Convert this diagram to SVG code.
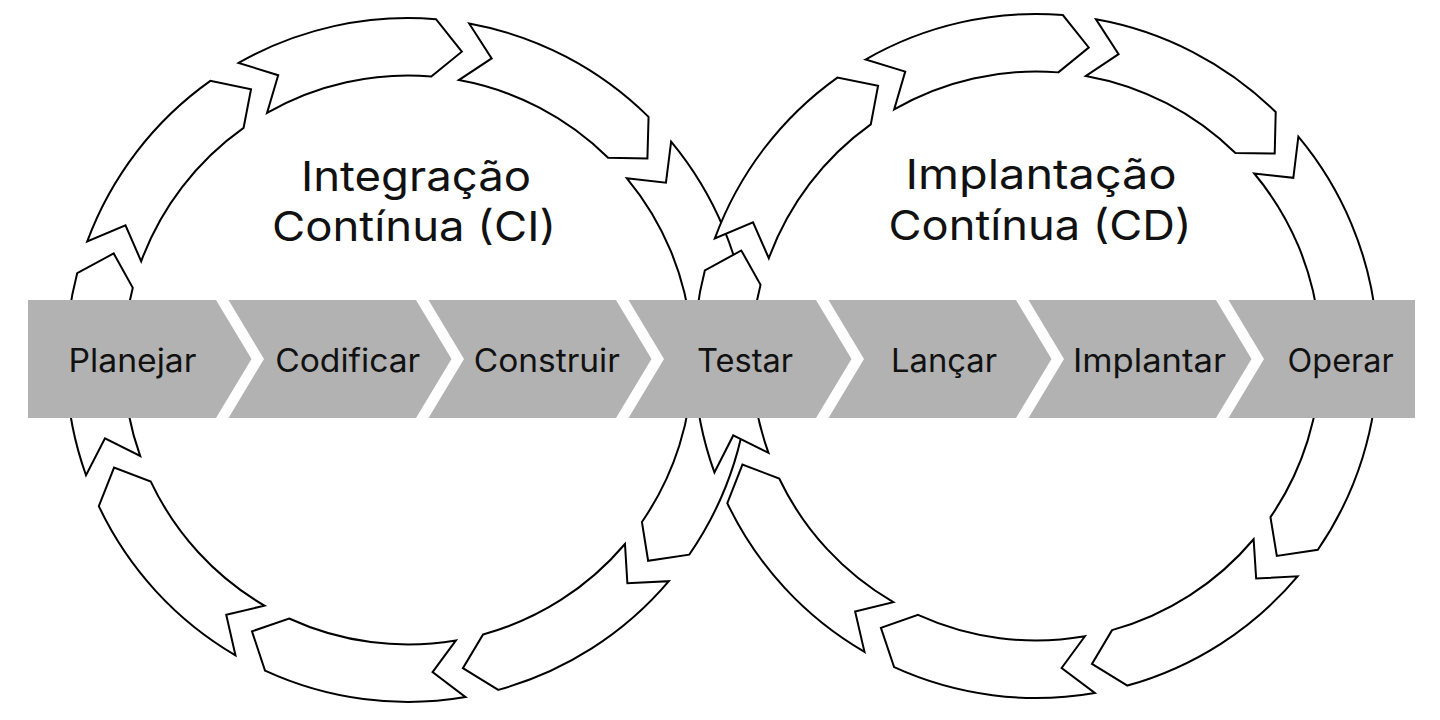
<svg xmlns="http://www.w3.org/2000/svg" xmlns:xlink="http://www.w3.org/1999/xlink" width="1440" height="720" viewBox="0 0 1440 720">
  <style>
    .seg { fill: #ffffff; stroke: #000000; stroke-width: 2; stroke-linejoin: miter; }
    .stage { fill: #b2b2b2; }
    .lbl { font-family: Inter, "Liberation Sans", sans-serif; font-size: 32px; fill: #111111; text-anchor: middle; }
    .title { font-family: Inter, "Liberation Sans", sans-serif; font-size: 41px; fill: #111111; text-anchor: middle; }
  </style>
  <defs>
    <path id="seg" class="seg" d="M342,0 A342,342 0 0 1 282.19,193.22 L241.17,199.51 L234.75,160.73 A284.5,284.5 0 0 0 284.5,0 L311.71,28.37 Z"/>
  </defs>
  <rect width="1440" height="720" fill="#ffffff"/>

  <g id="ring-ci" transform="translate(408,360)">
    <use xlink:href="#seg" href="#seg" transform="rotate(0.3)"/>
    <use xlink:href="#seg" href="#seg" transform="rotate(40.3)"/>
    <use xlink:href="#seg" href="#seg" transform="rotate(80.3)"/>
    <use xlink:href="#seg" href="#seg" transform="rotate(120.3)"/>
    <use xlink:href="#seg" href="#seg" transform="rotate(160.3)"/>
    <use xlink:href="#seg" href="#seg" transform="rotate(200.3)"/>
    <use xlink:href="#seg" href="#seg" transform="rotate(240.3)"/>
    <use xlink:href="#seg" href="#seg" transform="rotate(280.3)"/>
    <use xlink:href="#seg" href="#seg" transform="rotate(320.3)"/>
  </g>

  <g id="ring-cd" transform="translate(1036,356)">
    <use xlink:href="#seg" href="#seg" transform="rotate(0.1)"/>
    <use xlink:href="#seg" href="#seg" transform="rotate(40.1)"/>
    <use xlink:href="#seg" href="#seg" transform="rotate(80.1)"/>
    <use xlink:href="#seg" href="#seg" transform="rotate(120.1)"/>
    <use xlink:href="#seg" href="#seg" transform="rotate(160.1)"/>
    <use xlink:href="#seg" href="#seg" transform="rotate(200.1)"/>
    <use xlink:href="#seg" href="#seg" transform="rotate(240.1)"/>
    <use xlink:href="#seg" href="#seg" transform="rotate(280.1)"/>
    <use xlink:href="#seg" href="#seg" transform="rotate(320.1)"/>
  </g>

  <g id="title-ci">
    <text class="title" x="416" y="191" textLength="230" lengthAdjust="spacingAndGlyphs">Integração</text>
    <text class="title" x="414" y="241" textLength="284" lengthAdjust="spacingAndGlyphs">Contínua (CI)</text>
  </g>
  <g id="title-cd">
    <text class="title" x="1041" y="189" textLength="271" lengthAdjust="spacingAndGlyphs">Implantação</text>
    <text class="title" x="1040" y="240" textLength="303" lengthAdjust="spacingAndGlyphs">Contínua (CD)</text>
  </g>

  <g id="pipeline">
    <g id="stage-planejar">
      <path class="stage" d="M28,300 L216,300 L251.5,359 L216,418 L28,418 Z"/>
      <text class="lbl" x="132.5" y="372" textLength="128" lengthAdjust="spacingAndGlyphs">Planejar</text>
    </g>
    <g id="stage-codificar">
      <path class="stage" d="M228.5,300 L416,300 L451.5,359 L416,418 L228.5,418 L264,359 Z"/>
      <text class="lbl" x="347.7" y="372" textLength="145" lengthAdjust="spacingAndGlyphs">Codificar</text>
    </g>
    <g id="stage-construir">
      <path class="stage" d="M428.5,300 L616,300 L651.5,359 L616,418 L428.5,418 L464,359 Z"/>
      <text class="lbl" x="546.8" y="372" textLength="146" lengthAdjust="spacingAndGlyphs">Construir</text>
    </g>
    <g id="stage-testar">
      <path class="stage" d="M628.5,300 L816,300 L851.5,359 L816,418 L628.5,418 L664,359 Z"/>
      <text class="lbl" x="745" y="372" textLength="96" lengthAdjust="spacingAndGlyphs">Testar</text>
    </g>
    <g id="stage-lancar">
      <path class="stage" d="M828.5,300 L1016,300 L1051.5,359 L1016,418 L828.5,418 L864,359 Z"/>
      <text class="lbl" x="944" y="372" textLength="106" lengthAdjust="spacingAndGlyphs">Lançar</text>
    </g>
    <g id="stage-implantar">
      <path class="stage" d="M1028.5,300 L1216,300 L1251.5,359 L1216,418 L1028.5,418 L1064,359 Z"/>
      <text class="lbl" x="1149.5" y="372" textLength="153" lengthAdjust="spacingAndGlyphs">Implantar</text>
    </g>
    <g id="stage-operar">
      <path class="stage" d="M1228.5,300 L1415,300 L1415,418 L1228.5,418 L1264,359 Z"/>
      <text class="lbl" x="1340.6" y="372" textLength="106" lengthAdjust="spacingAndGlyphs">Operar</text>
    </g>
  </g>
</svg>
